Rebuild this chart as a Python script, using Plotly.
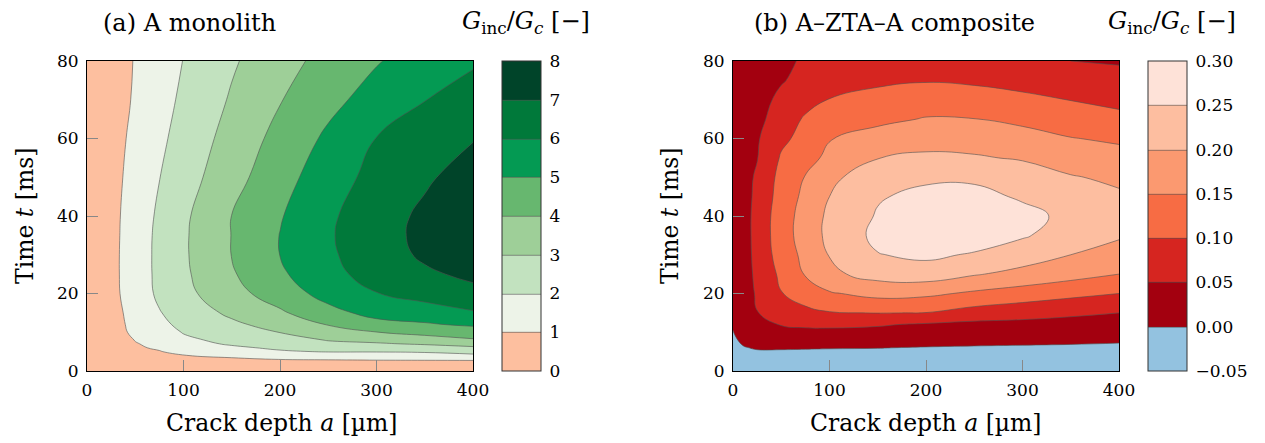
import plotly.graph_objects as go

# ---------------- data ----------------
# Panel (a): A monolith, G_inc/G_c on a grid of crack depth a [um] x time t [ms]
a_grid_a = [0, 25, 50, 75, 100, 150, 200, 250, 300, 350, 400]
t_grid_a = [0, 2, 3, 4, 5, 6, 7, 8, 10, 12, 15, 20, 25, 30, 35, 40, 50, 60, 70, 80]
col_a = {
    0:   [0]*20,
    25:  [0, 0.12, 0.18, 0.25, 0.30, 0.36, 0.41, 0.46, 0.58, 0.63, 0.67, 0.72, 0.74, 0.74, 0.73, 0.72, 0.68, 0.62, 0.57, 0.55],
    50:  [0, 0.22, 0.40, 0.55, 0.70, 0.88, 0.95, 1.03, 1.20, 1.26, 1.33, 1.48, 1.50, 1.50, 1.48, 1.45, 1.34, 1.23, 1.10, 1.05],
    75:  [0, 0.30, 0.50, 0.70, 0.95, 1.12, 1.22, 1.30, 1.55, 1.75, 1.95, 2.17, 2.22, 2.23, 2.22, 2.16, 1.98, 1.81, 1.65, 1.54],
    100: [0, 0.40, 0.75, 0.97, 1.30, 1.50, 1.70, 1.82, 2.05, 2.25, 2.40, 2.73, 2.83, 2.87, 2.87, 2.82, 2.56, 2.35, 2.17, 2.02],
    150: [0, 0.45, 0.85, 1.20, 1.55, 1.85, 2.10, 2.25, 2.50, 2.80, 3.20, 3.65, 3.90, 4.02, 4.02, 4.01, 3.65, 3.37, 3.10, 2.88],
    200: [0, 0.50, 1.01, 1.40, 1.90, 2.15, 2.40, 2.60, 3.02, 3.40, 3.85, 4.50, 4.85, 5.01, 5.02, 4.93, 4.62, 4.31, 3.95, 3.64],
    250: [0, 0.55, 1.06, 1.50, 2.05, 2.45, 2.80, 3.05, 3.50, 4.05, 4.70, 5.35, 5.70, 5.85, 5.90, 5.85, 5.56, 5.18, 4.72, 4.32],
    300: [0, 0.60, 1.10, 1.55, 2.05, 2.50, 2.90, 3.25, 3.98, 4.70, 5.30, 5.97, 6.40, 6.55, 6.60, 6.55, 6.30, 6.02, 5.40, 4.93],
    350: [0, 0.60, 1.12, 1.65, 2.10, 2.60, 3.10, 3.55, 4.30, 4.90, 5.50, 6.40, 6.85, 7.15, 7.25, 7.20, 6.85, 6.48, 5.98, 5.47],
    400: [0, 0.60, 1.15, 1.80, 2.35, 2.85, 3.35, 3.90, 4.50, 5.15, 5.90, 6.75, 7.20, 7.60, 7.80, 7.80, 7.45, 6.95, 6.35, 5.90],
}
levels_a = [0, 1, 2, 3, 4, 5, 6, 7, 8]
colors_a = ["#fdbf9f", "#edf3e8", "#c2e2bf", "#9ecf98", "#67b76f",
            "#049a53", "#00793a", "#004429"]

# Panel (b): A-ZTA-A composite
a_grid_b = [0, 10, 25, 50, 75, 100, 150, 200, 250, 300, 350, 400]
t_grid_b = [0, 3, 6, 9, 12, 15, 20, 25, 30, 35, 40, 45, 50, 55, 60, 65, 70, 75, 80]
rows_b = [
    [-0.030, -0.030, -0.030, -0.030, -0.030, -0.030, -0.030, -0.030, -0.030, -0.030, -0.030, -0.030],
    [-0.022, -0.020, -0.020, -0.020, -0.020, -0.020, -0.020, -0.022, -0.024, -0.025, -0.026, -0.028],
    [-0.012, -0.003, 0.004, 0.004, 0.003, 0.002, 0.001, -0.002, -0.004, -0.005, -0.006, -0.008],
    [-0.004, 0.012, 0.020, 0.030, 0.032, 0.032, 0.030, 0.026, 0.022, 0.018, 0.015, 0.012],
    [0.004, 0.020, 0.038, 0.052, 0.057, 0.058, 0.054, 0.045, 0.038, 0.037, 0.034, 0.030],
    [0.010, 0.026, 0.049, 0.070, 0.085, 0.097, 0.101, 0.099, 0.080, 0.068, 0.058, 0.050],
    [0.012, 0.028, 0.055, 0.098, 0.128, 0.145, 0.165, 0.160, 0.142, 0.128, 0.113, 0.100],
    [0.012, 0.028, 0.060, 0.110, 0.153, 0.190, 0.218, 0.226, 0.204, 0.185, 0.168, 0.150],
    [0.012, 0.028, 0.064, 0.122, 0.163, 0.202, 0.248, 0.260, 0.245, 0.225, 0.200, 0.183],
    [0.012, 0.028, 0.066, 0.127, 0.172, 0.212, 0.262, 0.283, 0.280, 0.255, 0.228, 0.205],
    [0.012, 0.028, 0.066, 0.126, 0.170, 0.210, 0.254, 0.275, 0.278, 0.262, 0.240, 0.222],
    [0.012, 0.028, 0.062, 0.120, 0.162, 0.200, 0.246, 0.262, 0.262, 0.245, 0.222, 0.206],
    [0.012, 0.028, 0.058, 0.115, 0.152, 0.190, 0.225, 0.242, 0.243, 0.228, 0.203, 0.192],
    [0.012, 0.028, 0.048, 0.105, 0.135, 0.160, 0.199, 0.210, 0.205, 0.195, 0.180, 0.168],
    [0.012, 0.028, 0.045, 0.090, 0.115, 0.148, 0.170, 0.178, 0.178, 0.170, 0.152, 0.142],
    [0.012, 0.028, 0.040, 0.068, 0.107, 0.120, 0.138, 0.153, 0.151, 0.138, 0.122, 0.108],
    [0.012, 0.027, 0.040, 0.056, 0.080, 0.102, 0.118, 0.125, 0.120, 0.110, 0.099, 0.092],
    [0.012, 0.026, 0.037, 0.048, 0.058, 0.070, 0.090, 0.097, 0.093, 0.085, 0.075, 0.068],
    [0.010, 0.025, 0.035, 0.045, 0.053, 0.062, 0.072, 0.078, 0.072, 0.062, 0.050, 0.045],
]
levels_b = [-0.05, 0.00, 0.05, 0.10, 0.15, 0.20, 0.25, 0.30]
ticktext_b = ["\u22120.05", "0.00", "0.05", "0.10", "0.15", "0.20", "0.25", "0.30"]
colors_b = ["#93c2e0", "#a3000f", "#d62520", "#f76c44", "#fb9970",
            "#fdbea0", "#fee2d8"]

x_ticks = [0, 100, 200, 300, 400]
y_ticks = [0, 20, 40, 60, 80]

# ---------------- figure ----------------
# the page body has an 8 px margin, so the figure is 8 px smaller on each
# axis and all reference pixel positions are shifted by 8 px
OFF = 8
W, H = 1265 - OFF, 443 - OFF
FONT = "DejaVu Serif"
TICK_SIZE = 17
LABEL_SIZE = 23.5


def px_x(p):
    return (p - OFF) / W


def px_y(p):
    return 1 - (p - OFF) / H


z_a = [[col_a[a][i] for a in a_grid_a] for i in range(len(t_grid_a))]


def step_scale(colors):
    n = len(colors) - 1
    return [[k / n, c] for k, c in enumerate(colors)]


def cbar(x0, tickvals, ticktext):
    return dict(
        x=px_x(x0), xanchor="left", xpad=0,
        y=px_y(371), yanchor="bottom", ypad=0,
        len=310 / H, lenmode="fraction",
        thickness=39, thicknessmode="pixels",
        outlinewidth=1, outlinecolor="#333333",
        ticks="outside", ticklen=5, tickcolor="rgba(0,0,0,0)",
        tickvals=tickvals, ticktext=ticktext,
        tickfont=dict(family=FONT, size=TICK_SIZE, color="black"),
    )


fig = go.Figure()
fig.add_trace(go.Contour(
    x=a_grid_a, y=t_grid_a, z=z_a,
    autocontour=False,
    contours=dict(start=levels_a[1], end=levels_a[-2], size=1, coloring="fill"),
    zauto=False, zmin=levels_a[0], zmax=levels_a[-1],
    colorscale=step_scale(colors_a),
    line=dict(color="#505050", width=0.6, smoothing=1.3),
    colorbar=cbar(502, levels_a, [str(v) for v in levels_a]),
    hoverinfo="skip",
    xaxis="x", yaxis="y",
))
fig.add_trace(go.Contour(
    x=a_grid_b, y=t_grid_b, z=rows_b,
    autocontour=False,
    contours=dict(start=levels_b[1], end=levels_b[-2], size=0.05, coloring="fill"),
    zauto=False, zmin=levels_b[0], zmax=levels_b[-1],
    colorscale=step_scale(colors_b),
    line=dict(color="#505050", width=0.6, smoothing=1.3),
    colorbar=cbar(1148, levels_b, ticktext_b),
    hoverinfo="skip",
    xaxis="x2", yaxis="y2",
))

axis_common = dict(
    showgrid=False, zeroline=False, automargin=False,
    ticks="inside", ticklen=11, tickwidth=1, tickcolor="#888888",
    showline=True, linecolor="black", linewidth=1, mirror=True,
    tickfont=dict(family=FONT, size=TICK_SIZE, color="black"),
)
fig.update_layout(
    width=W, height=H, autosize=False,
    margin=dict(l=0, r=0, t=0, b=0, autoexpand=False),
    paper_bgcolor="white", plot_bgcolor="white",
    showlegend=False,
    xaxis=dict(domain=[px_x(87), px_x(473)], range=[0, 400], tickvals=x_ticks,
               anchor="y", ticklabelstandoff=4, **axis_common),
    yaxis=dict(domain=[px_y(371), px_y(61)], range=[0, 80], tickvals=y_ticks,
               anchor="x", ticklabelstandoff=4, **axis_common),
    xaxis2=dict(domain=[px_x(733), px_x(1119)], range=[0, 400], tickvals=x_ticks,
                anchor="y2", ticklabelstandoff=4, **axis_common),
    yaxis2=dict(domain=[px_y(371), px_y(61)], range=[0, 80], tickvals=y_ticks,
                anchor="x2", ticklabelstandoff=4, **axis_common),
)

title_font = dict(family=FONT, size=24, color="black")
label_font = dict(family=FONT, size=LABEL_SIZE, color="black")
cb_title = "<i>G</i><sub>inc</sub>/<i>G<sub>c</sub></i> [\u2212]"
annotations = [
    dict(text="(a) A monolith", x=px_x(189), y=px_y(23), font=title_font),
    dict(text="(b) A\u2013ZTA\u2013A composite", x=px_x(894), y=px_y(23), font=title_font),
    dict(text=cb_title, x=px_x(526), y=px_y(23), font=title_font),
    dict(text=cb_title, x=px_x(1172), y=px_y(23), font=title_font),
    dict(text="Crack depth <i>a</i> [\u00b5m]", x=px_x(282), y=px_y(423), font=label_font),
    dict(text="Crack depth <i>a</i> [\u00b5m]", x=px_x(926), y=px_y(423), font=label_font),
    dict(text="Time <i>t</i> [ms]", x=px_x(25), y=px_y(216), textangle=-90, font=label_font),
    dict(text="Time <i>t</i> [ms]", x=px_x(670), y=px_y(216), textangle=-90, font=label_font),
]
for an in annotations:
    an.update(xref="paper", yref="paper", xanchor="center", yanchor="middle",
              showarrow=False)
fig.update_layout(annotations=annotations)

fig.write_html("out.html")
